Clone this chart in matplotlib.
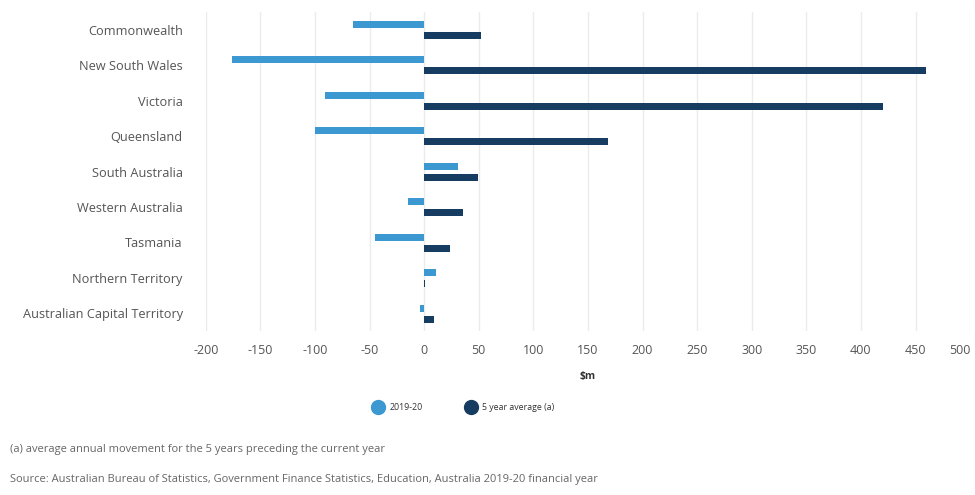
import numpy as np
import matplotlib.pyplot as plt
from matplotlib.lines import Line2D

plt.rcParams['font.family'] = ['Open Sans', 'DejaVu Sans']

categories = ['Commonwealth', 'New South Wales', 'Victoria', 'Queensland',
              'South Australia', 'Western Australia', 'Tasmania',
              'Northern Territory', 'Australian Capital Territory']
current_year = [-65, -176, -91, -100, 31, -15, -45, 11, -4]
five_year_avg = [52, 460, 420, 168, 49, 36, 24, 1, 9]
x_ticks = [-200, -150, -100, -50, 0, 50, 100, 150, 200, 250, 300, 350, 400, 450, 500]

light = '#3b98d0'
dark = '#173c61'
text_col = '#555555'

fig = plt.figure(figsize=(9.75, 4.95), dpi=100)
ax = fig.add_axes([0.211, 0.331, 0.784, 0.645])

y = np.arange(len(categories))
bh = 0.2
ax.barh(y - 0.15, current_year, height=bh, color=light, zorder=3)
ax.barh(y + 0.16, five_year_avg, height=bh, color=dark, zorder=3)

ax.set_ylim(len(categories) - 0.5, -0.5)
ax.set_xlim(-200, 500)
ax.set_yticks(y)
ax.set_yticklabels(categories, fontsize=9.2, color=text_col)
ax.set_xticks(x_ticks)
ax.set_xticklabels([str(t) for t in x_ticks], fontsize=9, color=text_col)
# last label sits inside the right edge, as in the source chart
ax.get_xticklabels()[-1].set_horizontalalignment('right')
ax.tick_params(axis='both', length=0)
ax.tick_params(axis='y', pad=16.5)
ax.tick_params(axis='x', pad=9)
ax.grid(axis='x', color='#ebebeb', linewidth=1, zorder=0)
for s in ax.spines.values():
    s.set_visible(False)

ax.set_xlabel('$m', fontsize=7.5, fontweight='bold', color='#333333', labelpad=10)

handles = [Line2D([], [], marker='o', linestyle='none', markersize=10, color=light),
           Line2D([], [], marker='o', linestyle='none', markersize=10, color=dark)]
fig.legend(handles, ['2019-20', '5 year average (a)'], loc='center',
           bbox_to_anchor=(0.474, 0.176), ncol=2, frameon=False, fontsize=6.3,
           handletextpad=0.3, columnspacing=4.5, labelcolor='#333333')

fig.text(0.01, 0.092, '(a) average annual movement for the 5 years preceding the current year',
         fontsize=8, color='#666666', va='center')
fig.text(0.01, 0.032, 'Source: Australian Bureau of Statistics, Government Finance Statistics, Education, Australia 2019-20 financial year',
         fontsize=8, color='#666666', va='center')

fig.savefig('out.png', dpi=100)
